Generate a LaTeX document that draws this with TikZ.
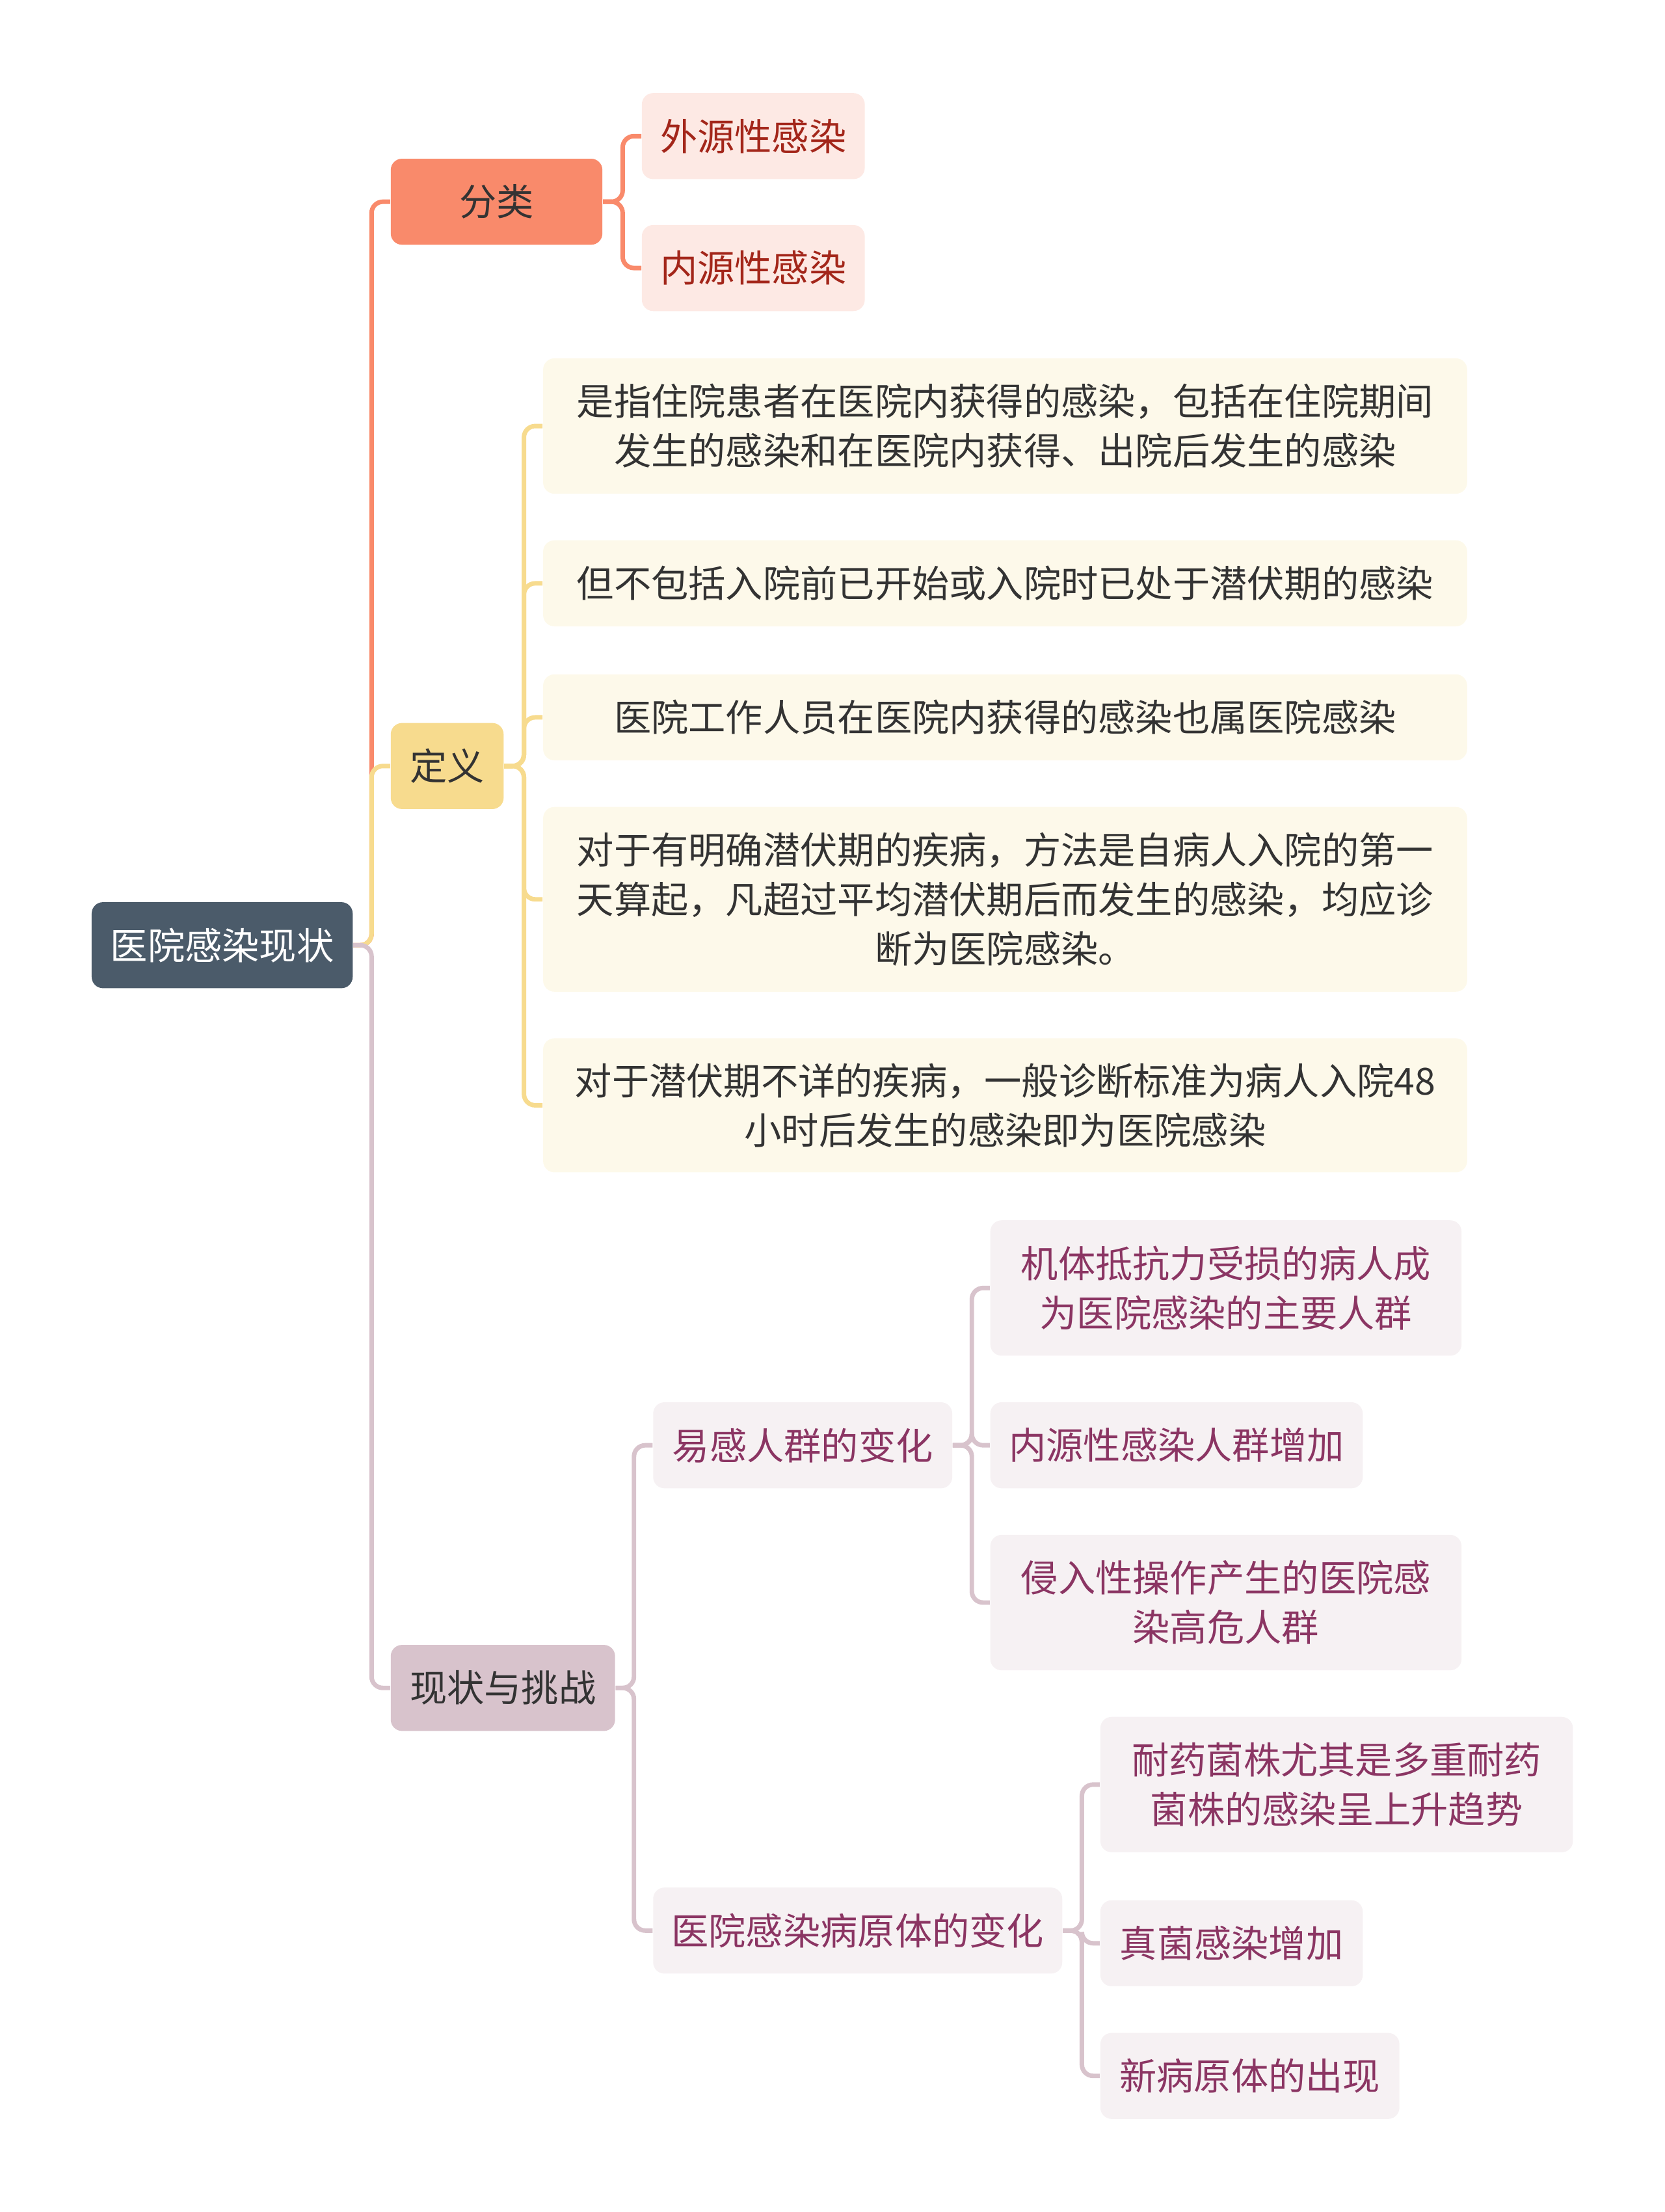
\documentclass[tikz,border=0pt]{standalone}
\usepackage{fontspec}
\setmainfont{Noto Sans CJK SC}

\definecolor{rootfill}{HTML}{4B5B6A}
\definecolor{salmon}{HTML}{F98A6B}
\definecolor{salmonlight}{HTML}{FDE9E4}
\definecolor{salmontext}{HTML}{A3261A}
\definecolor{yellowish}{HTML}{F7DB8E}
\definecolor{creamfill}{HTML}{FDF9EA}
\definecolor{mauve}{HTML}{D8C3CC}
\definecolor{mauvelight}{HTML}{F6F1F3}
\definecolor{mauvetext}{HTML}{8B3563}
\definecolor{darktext}{HTML}{333333}

\begin{document}
\begin{tikzpicture}[x=0.5pt, y=-0.5pt,
		box/.style={rounded corners=4pt, inner sep=0pt, align=center,
			font=\fontsize{13.2}{17.5}\selectfont, minimum height=30.5pt},
		rootbox/.style={box, fill=rootfill, text=white},
		clsbox/.style={box, fill=salmon, text=darktext},
		clsleaf/.style={box, fill=salmonlight, text=salmontext},
		defbox/.style={box, fill=yellowish, text=darktext},
		defleaf/.style={box, fill=creamfill, text=darktext, minimum width=327.5pt},
		nowbox/.style={box, fill=mauve, text=darktext},
		nowleaf/.style={box, fill=mauvelight, text=mauvetext},
		salmonline/.style={draw=salmon, line width=1.6pt, rounded corners=4pt},
		yellowline/.style={draw=yellowish, line width=1.6pt, rounded corners=4pt},
		mauveline/.style={draw=mauve, line width=1.6pt, rounded corners=4pt}]
	\useasboundingbox (0,0) rectangle (1180,1568);

	% Корень
	\node[rootbox, minimum width=92.5pt] (root) at (157.5,670) {医院感染现状};

	%分类
	\node[clsbox, minimum width=75pt] (cls) at (352,143) {分类};
	\node[clsleaf, minimum width=79pt] (ext) at (534,96.5) {外源性感染};
	\node[clsleaf, minimum width=79pt] (endo) at (534,190) {内源性感染};

	% 定义
	\node[defbox, minimum width=40pt] (def) at (317,543) {定义};
	\node[defleaf, minimum height=48pt] (d1) at (712.5,302) {是指住院患者在医院内获得的感染，包括在住院期间\\发生的感染和在医院内获得、出院后发生的感染};
	\node[defleaf] (d2) at (712.5,413.5) {但不包括入院前已开始或入院时已处于潜伏期的感染};
	\node[defleaf] (d3) at (712.5,508.5) {医院工作人员在医院内获得的感染也属医院感染};
	\node[defleaf, minimum height=65.5pt] (d4) at (712.5,637.5) {对于有明确潜伏期的疾病，方法是自病人入院的第一\\天算起，凡超过平均潜伏期后而发生的感染，均应诊\\断为医院感染。};
	\node[defleaf, minimum height=47.5pt] (d5) at (712.5,783.5) {对于潜伏期不详的疾病，一般诊断标准为病人入院48\\小时后发生的感染即为医院感染};

	% 现状与挑战
	\node[nowbox, minimum width=79.5pt] (now) at (356.5,1196.5) {现状与挑战};
	\node[nowleaf, minimum width=106pt] (host) at (569,1024.5) {易感人群的变化};
	\node[nowleaf, minimum width=145pt] (germ) at (608,1368.5) {医院感染病原体的变化};
	\node[nowleaf, minimum width=167pt, minimum height=48pt] (s1) at (869,913) {机体抵抗力受损的病人成\\为医院感染的主要人群};
	\node[nowleaf, minimum width=132pt] (s2) at (834,1024.5) {内源性感染人群增加};
	\node[nowleaf, minimum width=167pt, minimum height=48pt] (s3) at (869,1136) {侵入性操作产生的医院感\\染高危人群};
	\node[nowleaf, minimum width=167.5pt, minimum height=48pt] (p1) at (947.5,1265) {耐药菌株尤其是多重耐药\\菌株的感染呈上升趋势};
	\node[nowleaf, minimum width=93pt] (p2) at (873,1377.5) {真菌感染增加};
	\node[nowleaf, minimum width=106pt] (p3) at (886,1471.5) {新病原体的出现};

	% Связи
	\draw[salmonline] (root.east) -- ++(13,0) |- (cls.west);
	\draw[yellowline] (root.east) -- ++(13,0) |- (def.west);
	\draw[mauveline] (root.east) -- ++(13,0) |- (now.west);

	\foreach \leaf in {ext,endo}
		\draw[salmonline] (cls.east) -- ++(14,0) |- (\leaf.west);
	\foreach \leaf in {d1,d2,d3,d4,d5}
		\draw[yellowline] (def.east) -- ++(14,0) |- (\leaf.west);
	\foreach \leaf in {host,germ}
		\draw[mauveline] (now.east) -- ++(13,0) |- (\leaf.west);
	\foreach \leaf in {s1,s2,s3}
		\draw[mauveline] (host.east) -- ++(13.5,0) |- (\leaf.west);
	\foreach \leaf in {p1,p2,p3}
		\draw[mauveline] (germ.east) -- ++(13.5,0) |- (\leaf.west);
\end{tikzpicture}
\end{document}
